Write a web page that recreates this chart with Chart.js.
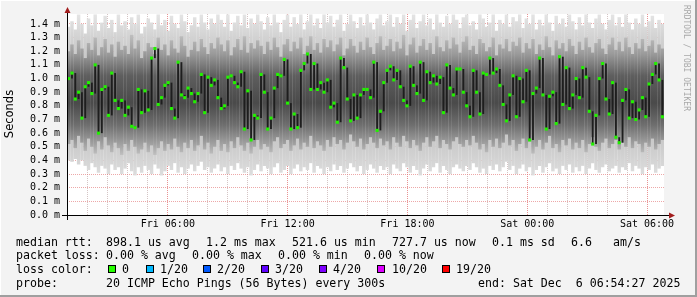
<!DOCTYPE html>
<html lang="en">
<head>
<meta charset="UTF-8">
<title>smokeping</title>
<style>
    body { margin: 0; background: #f3f3f3; }
    #chart { display: block; }
</style>
</head>
<body>
<canvas id="chart" width="697" height="297"></canvas>

<script src="https://cdn.jsdelivr.net/npm/chart.js"></script>
<script>
    // time window, hours counted from Fri 00:00
    const tStart = 0.95;
    const tEnd = 30.85;

    // median rtt per step (ms)
    const median = [
        1.00,1.04,0.85,0.90,0.71,0.94,0.97,0.89,1.10,0.60,0.92,0.94,0.73,1.04,0.84,
        0.78,0.84,0.73,0.79,0.65,0.64,0.92,0.75,0.91,0.77,1.15,1.22,0.81,0.86,0.95,
        0.97,0.78,0.71,1.12,0.88,0.86,0.93,0.89,0.83,0.89,1.03,0.75,1.01,0.95,0.99,
        0.86,0.78,0.80,1.01,1.02,0.97,0.94,1.05,0.63,0.91,0.55,0.73,0.71,1.03,0.90,
        0.63,0.71,0.93,1.03,1.02,1.14,0.82,0.63,0.74,0.64,1.06,1.11,1.18,0.92,1.11,
        0.92,0.97,0.90,0.99,0.79,0.82,0.68,1.15,1.08,0.85,0.69,0.88,0.71,0.88,0.92,
        0.92,0.86,1.12,0.62,0.76,0.97,1.06,1.09,0.99,1.06,0.94,0.84,0.80,1.09,0.95,
        0.89,1.12,0.84,1.05,0.97,1.02,0.96,1.01,0.75,1.10,0.93,0.88,1.07,1.07,0.90,
        0.80,0.72,1.06,0.90,0.74,1.04,1.03,1.15,1.04,1.07,0.95,0.81,0.69,0.88,1.02,
        0.72,1.00,0.83,1.06,0.55,0.89,0.93,1.15,0.88,0.63,0.87,0.90,0.67,1.16,0.81,
        1.08,0.78,0.88,1.00,0.86,1.08,1.01,0.76,0.52,0.73,1.00,1.11,0.85,0.74,0.97,
        0.57,0.53,0.84,0.92,0.71,0.83,0.70,0.77,0.86,0.72,0.96,1.03,1.11,0.99,0.72
    ];

    // smoke: lowest and highest ping per step (ms)
    const smokeLo = [
        0.40,0.39,0.41,0.37,0.40,0.36,0.33,0.38,0.35,0.31,0.36,0.34,0.30,0.37,0.33,
        0.35,0.30,0.34,0.38,0.32,0.29,0.35,0.31,0.36,0.33,0.30,0.37,0.34,0.29,0.32,
        0.36,0.33,0.38,0.31,0.35,0.30,0.34,0.37,0.32,0.36,0.39,0.33,0.35,0.31,0.34,
        0.37,0.32,0.35,0.30,0.36,0.33,0.38,0.34,0.31,0.35,0.29,0.33,0.37,0.32,0.36,
        0.34,0.30,0.35,0.38,0.31,0.33,0.36,0.30,0.34,0.37,0.32,0.35,0.33,0.38,0.31,
        0.36,0.34,0.30,0.35,0.32,0.37,0.33,0.36,0.31,0.34,0.38,0.35,0.32,0.36,0.30,
        0.33,0.37,0.34,0.31,0.36,0.33,0.35,0.30,0.37,0.34,0.32,0.38,0.35,0.31,0.36,
        0.33,0.29,0.34,0.37,0.32,0.35,0.38,0.31,0.36,0.33,0.30,0.35,0.37,0.34,0.32,
        0.36,0.33,0.38,0.35,0.31,0.34,0.30,0.36,0.33,0.37,0.32,0.35,0.39,0.33,0.36,
        0.30,0.34,0.37,0.32,0.35,0.29,0.33,0.36,0.31,0.35,0.38,0.32,0.34,0.30,0.36,
        0.33,0.37,0.31,0.35,0.32,0.36,0.30,0.34,0.38,0.33,0.31,0.35,0.37,0.32,0.34,
        0.36,0.31,0.35,0.33,0.38,0.32,0.36,0.34,0.30,0.35,0.33,0.37,0.31,0.34,0.36
    ];
    const smokeHi = [
        1.38,1.42,1.36,1.47,1.40,1.33,1.44,1.39,1.47,1.35,1.41,1.46,1.37,1.43,1.34,
        1.47,1.39,1.42,1.36,1.45,1.40,1.47,1.33,1.38,1.44,1.41,1.36,1.47,1.39,1.43,
        1.35,1.46,1.40,1.37,1.47,1.42,1.34,1.39,1.45,1.38,1.47,1.41,1.36,1.44,1.40,
        1.47,1.43,1.38,1.47,1.35,1.41,1.46,1.39,1.47,1.37,1.44,1.40,1.47,1.42,1.36,
        1.45,1.39,1.47,1.41,1.34,1.43,1.47,1.38,1.45,1.40,1.47,1.36,1.42,1.47,1.39,
        1.44,1.37,1.47,1.41,1.46,1.38,1.43,1.47,1.35,1.40,1.47,1.42,1.37,1.45,1.39,
        1.47,1.41,1.36,1.44,1.47,1.39,1.42,1.47,1.38,1.45,1.40,1.47,1.35,1.43,1.47,
        1.37,1.42,1.47,1.39,1.44,1.36,1.47,1.41,1.38,1.46,1.40,1.47,1.43,1.37,1.45,
        1.47,1.39,1.42,1.36,1.47,1.44,1.38,1.41,1.47,1.35,1.43,1.40,1.47,1.38,1.45,
        1.42,1.47,1.37,1.44,1.40,1.47,1.36,1.43,1.39,1.47,1.41,1.35,1.46,1.40,1.44,
        1.38,1.47,1.42,1.36,1.45,1.39,1.47,1.41,1.37,1.44,1.47,1.40,1.36,1.43,1.47,
        1.39,1.45,1.38,1.47,1.41,1.36,1.44,1.40,1.47,1.38,1.42,1.46,1.37,1.43,1.40
    ];

    // denser part of the smoke (ms)
    const bandLo = [
        0.52,0.55,0.49,0.58,0.53,0.47,0.56,0.50,0.45,0.54,0.48,0.57,0.51,0.46,0.53,
        0.49,0.44,0.52,0.47,0.55,0.50,0.45,0.48,0.53,0.46,0.51,0.44,0.49,0.54,0.47,
        0.52,0.48,0.56,0.50,0.46,0.53,0.49,0.55,0.47,0.51,0.58,0.48,0.53,0.45,0.50,
        0.55,0.47,0.52,0.46,0.54,0.49,0.57,0.51,0.47,0.53,0.45,0.50,0.55,0.48,0.52,
        0.50,0.46,0.54,0.57,0.49,0.52,0.55,0.47,0.51,0.56,0.48,0.53,0.50,0.58,0.49,
        0.54,0.51,0.47,0.55,0.50,0.57,0.52,0.55,0.48,0.53,0.59,0.54,0.50,0.56,0.48,
        0.52,0.57,0.53,0.49,0.56,0.51,0.54,0.48,0.57,0.53,0.50,0.58,0.54,0.49,0.55,
        0.51,0.47,0.53,0.57,0.50,0.54,0.58,0.49,0.55,0.52,0.48,0.54,0.57,0.52,0.50,
        0.55,0.51,0.58,0.53,0.48,0.52,0.46,0.55,0.50,0.56,0.49,0.53,0.59,0.51,0.55,
        0.47,0.52,0.56,0.49,0.54,0.45,0.50,0.55,0.48,0.53,0.58,0.49,0.52,0.46,0.55,
        0.51,0.56,0.48,0.53,0.49,0.55,0.46,0.52,0.57,0.50,0.47,0.53,0.56,0.49,0.52,
        0.55,0.48,0.53,0.50,0.57,0.49,0.54,0.52,0.46,0.53,0.50,0.56,0.48,0.52,0.55
    ];
    const bandHi = [
        1.20,1.25,1.18,1.28,1.22,1.15,1.26,1.21,1.30,1.17,1.23,1.29,1.19,1.25,1.16,
        1.27,1.21,1.24,1.18,1.32,1.22,1.28,1.15,1.20,1.26,1.23,1.18,1.30,1.21,1.25,
        1.17,1.28,1.22,1.19,1.31,1.24,1.16,1.21,1.27,1.20,1.29,1.23,1.18,1.26,1.22,
        1.30,1.25,1.20,1.28,1.17,1.23,1.29,1.21,1.31,1.19,1.26,1.22,1.28,1.24,1.18,
        1.27,1.21,1.30,1.23,1.16,1.25,1.29,1.20,1.27,1.22,1.30,1.18,1.24,1.31,1.21,
        1.26,1.19,1.29,1.23,1.28,1.20,1.25,1.30,1.17,1.22,1.29,1.24,1.19,1.27,1.21,
        1.30,1.23,1.18,1.26,1.31,1.21,1.24,1.29,1.20,1.27,1.22,1.32,1.17,1.25,1.30,
        1.19,1.24,1.29,1.21,1.26,1.18,1.31,1.23,1.20,1.28,1.22,1.30,1.25,1.19,1.27,
        1.31,1.21,1.24,1.18,1.29,1.26,1.20,1.23,1.30,1.17,1.25,1.22,1.29,1.20,1.27,
        1.24,1.30,1.19,1.26,1.22,1.29,1.18,1.25,1.21,1.31,1.23,1.17,1.28,1.22,1.26,
        1.20,1.29,1.24,1.18,1.27,1.21,1.30,1.23,1.19,1.26,1.29,1.22,1.18,1.25,1.30,
        1.21,1.27,1.20,1.30,1.23,1.18,1.26,1.22,1.29,1.20,1.24,1.28,1.19,1.25,1.22
    ];

    const lossLabels = ['0', '1/20', '2/20', '3/20', '4/20', '10/20', '19/20'];
    const lossColors = ['#26ff00', '#00b8ff', '#0059ff', '#5e00ff', '#7e00ff', '#dd00ff', '#ff0000'];

    const legendRows = [
        ['median rtt:', '898.1 us avg', '1.2 ms max', '521.6 us min', '727.7 us now', '0.1 ms sd', '6.6', 'am/s'],
        ['packet loss:', '0.00 % avg', '0.00 % max', '0.00 % min', '0.00 % now'],
        ['probe:', '20 ICMP Echo Pings (56 Bytes) every 300s', 'end: Sat Dec  6 06:54:27 2025']
    ];

    const step = (tEnd - tStart) / median.length;
    const xs = median.map((m, i) => tStart + (i + 0.5) * step);

    const monoFont = "'DejaVu Sans Mono', 'Liberation Mono', monospace";

    function hourLabel(v) {
        let day = v < 24 ? 'Fri' : 'Sat';
        let h = v % 24;
        return day + ' ' + (h < 10 ? '0' : '') + h + ':00';
    }

    // vertical grey ramp for the smoke, darker towards the middle
    function smokeFill(stops, fallback) {
        return function (context) {
            const chart = context.chart;
            const y = chart.scales.y;
            if (!chart.chartArea || !y) return fallback;
            const g = chart.ctx.createLinearGradient(0, y.getPixelForValue(1.47), 0, y.getPixelForValue(0));
            stops.forEach(s => g.addColorStop(1 - s[0] / 1.47, s[1]));
            return g;
        };
    }

    // background, frame, axes, legend
    const rrdLook = {
        id: 'rrdLook',
        beforeDraw(chart) {
            const c = chart.ctx;
            const a = chart.chartArea;
            c.save();
            c.fillStyle = '#f3f3f3';
            c.fillRect(0, 0, chart.width, chart.height);
            c.fillStyle = '#ffffff';
            c.fillRect(a.left, a.top, a.right - a.left, a.bottom - a.top);
            c.restore();
        },
        afterDraw(chart) {
            const c = chart.ctx;
            const a = chart.chartArea;
            c.save();

            // axis lines
            c.strokeStyle = '#000';
            c.lineWidth = 1;
            c.beginPath();
            c.moveTo(a.left + 0.5, a.top - 3);
            c.lineTo(a.left + 0.5, a.bottom + 5);
            c.moveTo(a.left - 5, a.bottom + 0.5);
            c.lineTo(a.right + 5, a.bottom + 0.5);
            c.stroke();

            // arrows
            c.fillStyle = '#a21d1d';
            c.beginPath();
            c.moveTo(a.left + 0.5, a.top - 7);
            c.lineTo(a.left - 2.5, a.top - 1);
            c.lineTo(a.left + 3.5, a.top - 1);
            c.fill();
            c.beginPath();
            c.moveTo(a.right + 11, a.bottom + 0.5);
            c.lineTo(a.right + 5, a.bottom - 2.5);
            c.lineTo(a.right + 5, a.bottom + 3.5);
            c.fill();

            // y title
            c.fillStyle = '#000';
            c.font = "11.5px 'DejaVu Sans'";
            c.textAlign = 'center';
            c.textBaseline = 'middle';
            c.save();
            c.translate(10.5, 114);
            c.rotate(-Math.PI / 2);
            c.fillText('Seconds', 0, 0);
            c.restore();

            // watermark
            c.fillStyle = '#a8a8a8';
            c.font = '8px ' + monoFont;
            c.textAlign = 'left';
            c.save();
            c.translate(686.5, 5);
            c.rotate(Math.PI / 2);
            c.fillText('RRDTOOL / TOBI OETIKER', 0, 0);
            c.restore();

            // legend
            c.fillStyle = '#000';
            c.font = '11.6px ' + monoFont;
            c.textAlign = 'left';
            c.textBaseline = 'alphabetic';
            const row1X = [16, 106, 206, 292, 392, 492, 571, 613];
            const row2X = [16, 106, 192, 278, 364];
            const row4X = [16, 106, 478];
            legendRows[0].forEach((t, i) => c.fillText(t, row1X[i], 245.5));
            legendRows[1].forEach((t, i) => c.fillText(t, row2X[i], 259));
            c.fillText('loss color:', 16, 272.8);
            const boxX = [108, 146, 203, 261, 319, 377, 442];
            const labX = [122, 160, 217, 275, 333, 392, 456];
            lossLabels.forEach((t, i) => {
                c.fillStyle = lossColors[i];
                c.fillRect(boxX[i], 265, 8, 8);
                c.strokeStyle = '#000';
                c.strokeRect(boxX[i] + 0.5, 265.5, 7, 7);
                c.fillStyle = '#000';
                c.fillText(t, labX[i], 272.8);
            });
            legendRows[2].forEach((t, i) => c.fillText(t, row4X[i], 286.5));

            // frame
            c.fillStyle = '#9f9f9f';
            c.fillRect(0, chart.height - 2, chart.width, 2);
            c.fillRect(chart.width - 2, 0, 2, chart.height);
            c.fillStyle = '#ffffff';
            c.fillRect(0, 0, chart.width - 2, 1);
            c.fillRect(0, 0, 1, chart.height - 2);
            c.restore();
        }
    };

    const ctx = document.getElementById('chart');

    let config = {
        type: 'bar',
        data: {
            datasets: [
                {
                    type: 'line',
                    label: 'median',
                    data: xs.map((x, i) => ({ x: x, y: median[i] })),
                    showLine: false,
                    pointStyle: 'rect',
                    pointRadius: 2.2,
                    pointBorderWidth: 0,
                    backgroundColor: '#22f000',
                    order: 1
                },
                {
                    label: 'core',
                    data: xs.map((x, i) => {
                        let prev = i > 0 ? median[i - 1] : median[i];
                        return { x: x, y: [Math.min(prev, median[i]), Math.max(prev, median[i])] };
                    }),
                    backgroundColor: '#1e1e1e',
                    grouped: false,
                    categoryPercentage: 1,
                    barPercentage: 0.55,
                    order: 2
                },
                {
                    label: 'band',
                    data: xs.map((x, i) => ({ x: x, y: [bandLo[i], bandHi[i]] })),
                    backgroundColor: smokeFill([
                        [1.34, '#c4c4c4'], [1.18, '#9a9a9a'], [1.02, '#5e5e5e'],
                        [0.82, '#4a4a4a'], [0.66, '#6e6e6e'], [0.50, '#a8a8a8'], [0.42, '#c8c8c8']
                    ], '#9c9c9c'),
                    grouped: false,
                    categoryPercentage: 1,
                    barPercentage: 1.04,
                    order: 3
                },
                {
                    label: 'smoke',
                    data: xs.map((x, i) => ({ x: x, y: [smokeLo[i], smokeHi[i]] })),
                    backgroundColor: smokeFill([
                        [1.47, '#e4e4e4'], [1.30, '#d2d2d2'], [0.9, '#b8b8b8'], [0.5, '#cccccc'], [0.28, '#dedede']
                    ], '#dadada'),
                    grouped: false,
                    categoryPercentage: 1,
                    barPercentage: 1.04,
                    order: 4
                }
            ]
        },
        options: {
            responsive: false,
            animation: false,
            devicePixelRatio: 1,
            layout: { padding: { left: 0, right: 33, top: 14, bottom: 0 } },
            plugins: { legend: { display: false }, tooltip: { enabled: false } },
            scales: {
                x: {
                    type: 'linear',
                    min: tStart,
                    max: tEnd,
                    offset: false,
                    z: 1,
                    grid: {
                        offset: false,
                        drawTicks: false,
                        color: c => (c.tick && c.tick.value % 6 === 0) ? 'rgba(225,110,110,0.75)' : 'rgba(190,165,165,0.65)'
                    },
                    border: { display: false, dash: [1, 1] },
                    ticks: {
                        stepSize: 1,
                        includeBounds: false,
                        autoSkip: false,
                        maxRotation: 0,
                        minRotation: 0,
                        padding: 3,
                        color: '#000',
                        font: { family: monoFont, size: 10 },
                        callback: v => v % 6 === 0 ? hourLabel(v) : ''
                    },
                    afterFit: s => {
                        s.height = 82;
                        s.paddingLeft = 0;
                        s.paddingRight = 0;
                    }
                },
                y: {
                    min: 0,
                    max: 1.473,
                    z: 1,
                    grid: { drawTicks: false, color: 'rgba(225,110,110,0.6)' },
                    border: { display: false, dash: [1, 1] },
                    ticks: {
                        stepSize: 0.1,
                        includeBounds: false,
                        autoSkip: false,
                        padding: 7,
                        color: '#000',
                        font: { family: monoFont, size: 10 },
                        callback: v => v.toFixed(1) + ' m'
                    },
                    afterFit: s => {
                        s.width = 67;
                        s.paddingTop = 0;
                        s.paddingBottom = 0;
                    }
                }
            }
        },
        plugins: [rrdLook]
    };

    let myChart = new Chart(ctx, config);
</script>
</body>
</html>
